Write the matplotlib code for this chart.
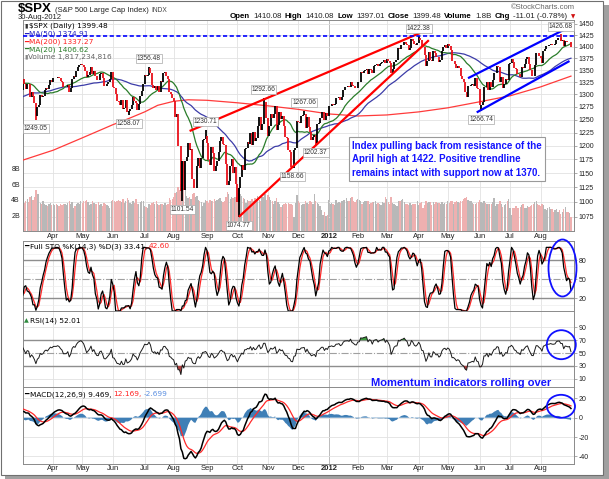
import numpy as np
import pandas as pd
import matplotlib
matplotlib.use('Agg')
import matplotlib.pyplot as plt
from matplotlib.offsetbox import TextArea, HPacker, AnchoredOffsetbox
from matplotlib.patches import Ellipse, Rectangle
from matplotlib.transforms import IdentityTransform

# ------------------------------------------------------------------ data
holidays = ['2010-12-24', '2011-01-17', '2011-02-21', '2011-04-22', '2011-05-30',
            '2011-07-04', '2011-09-05', '2011-11-24', '2011-12-26', '2012-01-02',
            '2012-01-16', '2012-02-20', '2012-04-06', '2012-05-28', '2012-07-04']

close_2010_12 = [1240.46, 1241.59, 1235.23, 1242.87, 1243.91, 1247.08, 1254.60, 1258.84, 1256.77, 1257.54,
                 1258.51, 1259.78, 1257.88, 1257.64]
close_2011_01 = [1271.87, 1270.20, 1276.56, 1273.85, 1271.50, 1269.75, 1274.48, 1285.96, 1283.76, 1293.24,
                 1295.02, 1281.92, 1280.26, 1283.35, 1290.84, 1291.18, 1296.63, 1299.54, 1276.34, 1286.12]
close_2011_02 = [1307.59, 1304.03, 1307.10, 1310.87, 1319.05, 1324.57, 1320.88, 1321.87, 1329.15, 1332.32,
                 1328.01, 1336.32, 1340.43, 1343.01, 1315.44, 1307.40, 1306.10, 1319.88, 1327.22]
close_2011_03 = [1306.33, 1308.44, 1330.97, 1321.15, 1310.13, 1321.82, 1320.02, 1295.11, 1304.28, 1296.39,
                 1281.87, 1256.88, 1273.72, 1279.20, 1298.38, 1293.77, 1297.54, 1309.66, 1313.80, 1310.19,
                 1319.44, 1328.26, 1325.83]
close_2011_04 = [1332.41, 1332.87, 1332.63, 1335.54, 1333.51, 1328.17, 1324.46, 1314.16, 1314.41, 1314.52,
                 1319.68, 1305.14, 1312.62, 1330.36, 1337.38, 1335.25, 1347.24, 1355.66, 1360.48, 1363.61]
close_2011_05 = [1361.22, 1356.62, 1347.32, 1335.10, 1340.20, 1346.29, 1357.16, 1342.08, 1348.65, 1337.77,
                 1329.47, 1328.98, 1340.68, 1343.60, 1333.27, 1317.37, 1316.28, 1320.47, 1325.69, 1331.10,
                 1345.20]
close_2011_06 = [1314.55, 1312.94, 1300.16, 1286.17, 1284.94, 1279.56, 1289.00, 1270.98, 1271.83, 1287.87,
                 1265.42, 1267.64, 1271.50, 1278.36, 1295.52, 1287.14, 1283.50, 1268.45, 1280.10, 1296.67,
                 1307.41, 1320.64]
close_2011_07 = [1339.67, 1337.88, 1339.22, 1353.22, 1343.80, 1319.49, 1313.64, 1317.72, 1308.87, 1316.14,
                 1305.44, 1326.73, 1325.84, 1343.80, 1345.02, 1337.43, 1331.94, 1304.89, 1300.67, 1292.28]
close_2011_08 = [1286.94, 1254.05, 1260.34, 1200.07, 1199.38, 1119.46, 1172.53, 1120.76, 1172.64, 1178.81,
                 1204.49, 1192.76, 1193.89, 1140.65, 1123.53, 1123.82, 1162.35, 1177.60, 1159.27, 1176.80,
                 1210.08, 1212.92, 1218.89]
close_2011_09 = [1204.42, 1173.97, 1165.24, 1198.62, 1185.90, 1154.23, 1162.27, 1172.87, 1188.68, 1209.11,
                 1216.01, 1204.09, 1202.09, 1166.76, 1129.56, 1136.43, 1162.95, 1175.38, 1151.06, 1160.40,
                 1131.42]
close_2011_10 = [1099.23, 1123.95, 1144.03, 1164.97, 1155.46, 1194.89, 1195.54, 1207.25, 1203.66, 1224.58,
                 1200.86, 1225.38, 1209.88, 1215.39, 1238.25, 1254.19, 1229.05, 1242.00, 1284.59, 1285.09,
                 1253.30]
close_2011_11 = [1218.28, 1237.90, 1261.15, 1253.23, 1261.12, 1275.92, 1229.10, 1239.70, 1263.85, 1251.78,
                 1257.81, 1236.91, 1216.13, 1215.65, 1192.98, 1188.04, 1161.79, 1158.67, 1192.55, 1195.19,
                 1246.96]
close_2011_12 = [1244.58, 1244.28, 1257.08, 1258.47, 1261.01, 1234.35, 1255.19, 1236.47, 1225.73, 1211.82,
                 1215.75, 1219.66, 1205.35, 1241.30, 1243.72, 1254.00, 1265.33, 1265.43, 1249.64, 1263.02,
                 1257.60]
close_2012_01 = [1277.06, 1277.30, 1281.06, 1277.81, 1280.70, 1292.08, 1292.48, 1295.50, 1289.09, 1293.67,
                 1308.04, 1314.50, 1315.38, 1316.00, 1314.65, 1326.06, 1318.43, 1316.33, 1313.01, 1312.41]
close_2012_02 = [1324.09, 1325.54, 1344.90, 1344.33, 1347.05, 1349.96, 1351.95, 1342.64, 1351.77, 1350.50,
                 1343.23, 1358.04, 1361.23, 1362.21, 1357.66, 1363.46, 1365.74, 1367.59, 1372.18, 1365.68]
close_2012_03 = [1374.09, 1369.63, 1364.33, 1343.36, 1352.63, 1365.91, 1370.87, 1371.09, 1395.95, 1394.28,
                 1402.60, 1404.17, 1409.75, 1405.52, 1402.89, 1392.78, 1397.11, 1416.51, 1412.52, 1405.54,
                 1403.28, 1408.47]
close_2012_04 = [1419.04, 1413.38, 1398.96, 1398.08, 1382.20, 1358.59, 1368.71, 1387.57, 1370.26, 1369.57,
                 1390.78, 1385.14, 1376.92, 1378.53, 1366.94, 1371.97, 1390.69, 1399.98, 1403.36, 1397.91]
close_2012_05 = [1405.82, 1402.31, 1391.57, 1369.10, 1369.58, 1363.72, 1354.58, 1357.99, 1353.39, 1338.35,
                 1330.66, 1324.80, 1304.86, 1295.22, 1315.99, 1316.63, 1318.86, 1320.68, 1317.82, 1332.42,
                 1313.32, 1310.33]
close_2012_06 = [1278.04, 1278.18, 1285.50, 1315.13, 1314.99, 1325.66, 1308.93, 1324.18, 1314.88, 1329.10,
                 1342.84, 1344.78, 1357.98, 1355.69, 1325.51, 1335.02, 1313.72, 1319.99, 1331.85, 1329.04,
                 1362.16]
close_2012_07 = [1365.51, 1374.02, 1367.58, 1354.68, 1352.46, 1341.47, 1341.45, 1334.76, 1356.78, 1353.64,
                 1363.67, 1372.78, 1376.51, 1362.66, 1350.52, 1338.31, 1337.89, 1360.02, 1385.97, 1385.30,
                 1379.32]
close_2012_08 = [1375.32, 1365.00, 1390.99, 1394.23, 1401.35, 1402.22, 1402.80, 1405.87, 1404.11, 1403.93,
                 1405.53, 1415.51, 1418.16, 1418.13, 1413.17, 1413.49, 1402.08, 1411.13, 1410.44, 1409.30,
                 1410.49, 1399.48]

# volume, in units of 100 million shares (from 2011-03-01)
vol_2011_03 = [40, 42, 38, 36, 39, 41, 37, 43, 45, 40, 44, 52, 48, 47, 36, 35, 38, 34, 33, 32, 35, 36, 33]
vol_2011_04 = [34, 33, 34, 33, 32, 34, 33, 35, 34, 33, 36, 38, 34, 37, 30, 32, 35, 36, 34, 38]
vol_2011_05 = [36, 38, 39, 40, 37, 33, 35, 38, 36, 34, 35, 37, 33, 34, 32, 36, 35, 33, 32, 30, 38]
vol_2011_06 = [40, 38, 37, 39, 40, 39, 37, 41, 36, 39, 42, 40, 36, 34, 38, 36, 41, 35, 34, 37, 38, 39]
vol_2011_07 = [32, 31, 30, 35, 33, 36, 37, 35, 38, 34, 33, 35, 34, 33, 36, 33, 34, 42, 40, 41]
vol_2011_08 = [44, 49, 50, 56, 53, 60, 57, 55, 54, 45, 42, 43, 41, 47, 49, 43, 45, 40, 39, 37, 32, 36, 40]
vol_2011_09 = [38, 36, 40, 39, 38, 41, 39, 40, 41, 42, 38, 37, 38, 44, 50, 48, 41, 43, 42, 44, 43]
vol_2011_10 = [49, 54, 48, 45, 42, 41, 36, 40, 38, 39, 41, 39, 42, 41, 45, 40, 39, 43, 44, 48, 40]
vol_2011_11 = [46, 43, 40, 38, 35, 39, 42, 37, 35, 31, 33, 34, 36, 34, 36, 34, 35, 33, 18, 36, 46]
vol_2011_12 = [38, 36, 33, 34, 35, 38, 36, 34, 39, 37, 35, 48, 38, 36, 35, 32, 27, 21, 25, 19, 20]
vol_2012_01 = [40, 35, 36, 34, 33, 40, 36, 37, 36, 38, 40, 40, 42, 39, 39, 42, 44, 38, 37, 40]
vol_2012_02 = [41, 40, 39, 34, 37, 39, 39, 38, 34, 36, 37, 37, 38, 35, 36, 34, 33, 37, 36, 43]
vol_2012_03 = [41, 37, 35, 43, 36, 35, 33, 32, 38, 39, 40, 41, 37, 34, 35, 33, 36, 33, 35, 34, 35, 38]
vol_2012_04 = [33, 36, 37, 29, 33, 38, 36, 37, 37, 33, 37, 35, 37, 36, 36, 35, 37, 34, 36, 34]
vol_2012_05 = [38, 36, 38, 39, 35, 37, 39, 37, 36, 38, 39, 41, 42, 43, 40, 38, 38, 36, 34, 34, 36, 37]
vol_2012_06 = [40, 37, 36, 38, 36, 34, 35, 34, 35, 37, 42, 32, 34, 35, 38, 34, 31, 33, 34, 38, 41]
vol_2012_07 = [30, 20, 29, 30, 32, 29, 30, 31, 33, 34, 30, 30, 32, 31, 32, 33, 35, 37, 39, 35, 33]
vol_2012_08 = [32, 35, 33, 28, 27, 29, 31, 28, 28, 25, 27, 28, 25, 27, 22, 25, 28, 31, 25, 24, 23, 18]

ma200_dates = ['2011-03-01', '2011-04-01', '2011-05-02', '2011-06-01', '2011-06-16', '2011-07-01',
               '2011-07-15', '2011-08-01', '2011-08-15', '2011-09-01', '2011-10-03', '2011-11-01',
               '2011-12-01', '2012-01-03', '2012-02-01', '2012-03-01', '2012-04-02', '2012-05-01',
               '2012-06-01', '2012-07-02', '2012-08-01', '2012-08-30']
ma200_values = [1172, 1192, 1215, 1240, 1252, 1265, 1278, 1286, 1289, 1288, 1283, 1277,
                1270, 1261, 1257, 1259, 1265, 1273, 1285, 1297, 1315, 1337.27]

extreme_dates = ['2011-03-16', '2011-06-16', '2011-07-07', '2011-08-09', '2011-08-31', '2011-10-04',
                 '2011-10-27', '2011-11-25', '2011-12-07', '2011-12-19', '2012-04-02', '2012-06-04',
                 '2012-08-21']
extreme_values = [1249.05, 1258.07, 1356.48, 1101.54, 1230.71, 1074.77, 1292.66, 1158.66, 1267.06,
                  1202.37, 1422.38, 1266.74, 1426.68]

red_trend1_dates, red_trend1_values = ['2011-08-16', '2012-04-03'], [1228, 1430]
red_trend2_dates, red_trend2_values = ['2011-10-04', '2012-04-12'], [1074.77, 1414]
blue_trend1_dates, blue_trend1_values = ['2012-05-21', '2012-08-30'], [1333, 1445]
blue_trend2_dates, blue_trend2_values = ['2012-05-30', '2012-08-29'], [1264, 1369]
resistance = 1422.38

price_ticks = [1075, 1100, 1125, 1150, 1175, 1200, 1225, 1250, 1275, 1300, 1325, 1350, 1375, 1400, 1425, 1450]
vol_ticks = [2e9, 4e9, 6e9, 8e9]
vol_tick_labels = ['2B', '4B', '6B', '8B']

# ------------------------------------------------------------------ prep
close = np.array(close_2010_12 + close_2011_01 + close_2011_02 + close_2011_03 + close_2011_04 +
                 close_2011_05 + close_2011_06 + close_2011_07 + close_2011_08 + close_2011_09 +
                 close_2011_10 + close_2011_11 + close_2011_12 + close_2012_01 + close_2012_02 +
                 close_2012_03 + close_2012_04 + close_2012_05 + close_2012_06 + close_2012_07 +
                 close_2012_08)
dates = pd.bdate_range('2010-12-13', '2012-08-30', freq='C', holidays=holidays)
assert len(dates) == len(close), (len(dates), len(close))
n = len(close)
x = np.arange(n)

def idx(d):
    return dates.get_loc(pd.Timestamp(d))

volume = np.array(vol_2011_03 + vol_2011_04 + vol_2011_05 + vol_2011_06 + vol_2011_07 + vol_2011_08 +
                  vol_2011_09 + vol_2011_10 + vol_2011_11 + vol_2011_12 + vol_2012_01 + vol_2012_02 +
                  vol_2012_03 + vol_2012_04 + vol_2012_05 + vol_2012_06 + vol_2012_07 + vol_2012_08) * 1e8
vstart = idx('2011-03-01')
assert vstart + len(volume) == n, (vstart, len(volume), n)
vx = np.arange(vstart, n)

c = pd.Series(close)
ma50 = c.rolling(50).mean()
ma20 = c.rolling(20).mean()
ll, hh = c.rolling(14).min(), c.rolling(14).max()
fastk = 100 * (c - ll) / (hh - ll)
fullk = fastk.rolling(3).mean()
fulld = fullk.rolling(3).mean()
dlt = c.diff()
ag = dlt.clip(lower=0).ewm(alpha=1 / 14, adjust=False).mean()
al = (-dlt.clip(upper=0)).ewm(alpha=1 / 14, adjust=False).mean()
rsi = 100 - 100 / (1 + ag / al)
macd = c.ewm(span=12, adjust=False).mean() - c.ewm(span=26, adjust=False).mean()
signal = macd.ewm(span=9, adjust=False).mean()
hist = macd - signal

prev = np.r_[close[0], close[:-1]]
up = close >= prev

# ------------------------------------------------------------------ figure
W, H = 609, 479
fig = plt.figure(figsize=(W / 100, H / 100), dpi=100)
plt.rcParams['font.family'] = ['DejaVu Sans']
NUM = 'Liberation Sans'


def rect(l, t, r, b):
    return [l / W, 1 - b / H, (r - l) / W, (b - t) / H]


L, R = 22.7, 574.0
XMIN, XMAX = 54.9, 435.1
GRID = '#e2e2e2'
SPINE = '#8a8a8a'

# frame + shadow
fig.add_artist(Rectangle((5, 0), 604, 474, transform=IdentityTransform(), fc='#a0a0a0', ec='none', zorder=-20))
fig.add_artist(Rectangle((1, 4), 602, 474, transform=IdentityTransform(), fc='white', ec='#707070', lw=0.8,
                         zorder=-19))

month_idx = [i for i in range(1, n) if dates[i].month != dates[i - 1].month and XMIN < i < XMAX]
month_lab = ['2012' if dates[i].month == 1 else dates[i].strftime('%b') for i in month_idx]


def base_axes(r, ylim, yticks, ylabels, log=False, xlabels=False, facecolor='white', z=1):
    a = fig.add_axes(r, zorder=z, facecolor=facecolor)
    if log:
        a.set_yscale('log')
    a.set_xlim(XMIN, XMAX)
    a.set_ylim(*ylim)
    a.yaxis.tick_right()
    a.set_yticks(yticks)
    a.set_yticklabels(ylabels)
    a.yaxis.set_minor_locator(matplotlib.ticker.NullLocator())
    a.tick_params(axis='y', labelsize=5, length=2, width=0.5, color=SPINE, pad=1.5, labelcolor='#222222')
    for lab in a.get_yticklabels():
        lab.set_family(NUM)
    a.set_xticks(month_idx)
    if xlabels:
        a.set_xticklabels(month_lab)
        a.tick_params(axis='x', labelsize=5.5, length=0, pad=1.3, labelcolor='#222222')
        for lab in a.get_xticklabels():
            lab.set_family(NUM)
            if lab.get_text() == '2012':
                lab.set_fontweight('bold')
    else:
        a.set_xticklabels([])
        a.tick_params(axis='x', length=0)
    for i in month_idx:
        a.axvline(i, color='#b0b0b0' if dates[i].month == 1 else GRID, lw=0.6, zorder=0)
    for s in a.spines.values():
        s.set_color(SPINE)
        s.set_linewidth(0.7)
    return a


# ---- main price panel
MAIN = rect(L, 20.5, R, 231)
ax = base_axes(MAIN, (1051.4, 1457.9), price_ticks, [str(t) for t in price_ticks], log=True, xlabels=True)
for t in price_ticks:
    ax.axhline(t, color=GRID, lw=0.6, zorder=0)

axv = fig.add_axes(MAIN, zorder=2, facecolor='none')
axv.set_xlim(XMIN, XMAX)
axv.set_ylim(0, 27e9)
axv.bar(vx, volume, width=0.9, color=np.where(up[vstart:], '#b8b8b8', '#eeb0b0'), lw=0)
axv.set_frame_on(False)
axv.set_xticks([])
axv.set_yticks(vol_ticks)
axv.set_yticklabels(vol_tick_labels)
axv.tick_params(axis='y', labelsize=5, length=0, pad=2, labelcolor='#222222')
for lab in axv.get_yticklabels():
    lab.set_family(NUM)

axp = fig.add_axes(MAIN, zorder=3, facecolor='none')
axp.set_yscale('log')
axp.set_xlim(XMIN, XMAX)
axp.set_ylim(1051.4, 1457.9)
axp.axis('off')

axp.plot([idx(d) for d in ma200_dates], ma200_values, color='#ff3b3b', lw=0.9, zorder=2)
axp.plot(x, ma50, color='#3c3ca8', lw=0.9, zorder=2)
axp.plot(x, ma20, color='#2a7d2a', lw=0.9, zorder=2)
axp.vlines(x, np.minimum(prev, close), np.maximum(prev, close),
           colors=np.where(up, 'black', '#e8101a'), lw=1.3, zorder=3)
for d, v in zip(extreme_dates, extreme_values):
    i = idx(d)
    is_high = v >= close[i]
    axp.vlines(i, min(v, close[i]), max(v, close[i]), colors='black' if up[i] else '#e8101a', lw=1.3, zorder=3)
    axp.annotate(f'{v:.2f}', xy=(i, v), xytext=(0, 6 if is_high else -6), textcoords='offset points',
                 ha='center', va='center', fontsize=4.8, family=NUM, color='#333333', zorder=8,
                 bbox=dict(boxstyle='square,pad=0.15', fc='white', ec='#a8a8a8', lw=0.5))

for ds, vs, col in [(red_trend1_dates, red_trend1_values, '#ff0000'),
                    (red_trend2_dates, red_trend2_values, '#ff0000'),
                    (blue_trend1_dates, blue_trend1_values, '#0000ff'),
                    (blue_trend2_dates, blue_trend2_values, '#0000ff')]:
    axp.plot([idx(d) for d in ds], vs, color=col, lw=1.6, zorder=5, solid_capstyle='butt')
axp.axhline(resistance, color='#0000ff', lw=1.2, ls=(0, (2.5, 1.5)), zorder=5)

# ---- stochastics
ax_s = base_axes(rect(L, 241, R, 311), (0, 110), [20, 50, 80], ['20', '50', '80'])
for v in range(10, 110, 10):
    if v not in (20, 50, 80):
        ax_s.axhline(v, color='#ededed', lw=0.5, zorder=0)
ax_s.axhline(80, color='#8e8e8e', lw=1.0, zorder=1)
ax_s.axhline(20, color='#8e8e8e', lw=1.0, zorder=1)
ax_s.axhline(50, color='#a0a0a0', lw=0.8, ls='-.', zorder=1)
ax_s.plot(x, fulld, color='#ff2a2a', lw=0.9, zorder=2)
ax_s.plot(x, fullk, color='black', lw=0.9, zorder=3)

# ---- RSI
ax_r = base_axes(rect(L, 311, R, 387), (-2.9, 115.4), [10, 30, 50, 70, 90], ['10', '30', '50', '70', '90'])
for v in (10, 90):
    ax_r.axhline(v, color=GRID, lw=0.6, zorder=0)
ax_r.axhline(70, color='#8e8e8e', lw=1.0, zorder=1)
ax_r.axhline(30, color='#8e8e8e', lw=1.0, zorder=1)
ax_r.axhline(50, color='#a0a0a0', lw=0.8, ls='-.', zorder=1)
ax_r.fill_between(x, rsi, 70, where=rsi > 70, interpolate=True, color='#3c9a3c', lw=0, zorder=2)
ax_r.fill_between(x, rsi, 30, where=rsi < 30, interpolate=True, color='#b04040', lw=0, zorder=2)
ax_r.plot(x, rsi, color='#1a1a1a', lw=0.7, zorder=3)

# ---- MACD
ax_m = base_axes(rect(L, 387, R, 463.5), (-47.4, 31.7), [-40, -20, 0, 20], ['-40', '-20', '0', '20'],
                 xlabels=True)
for v in (-40, -20, 0, 20):
    ax_m.axhline(v, color=GRID, lw=0.6, zorder=0)
ax_m.fill_between(x, hist, 0, color='#3f7fb6', lw=0, zorder=2)
ax_m.plot(x, signal, color='#ff2a2a', lw=0.9, zorder=3)
ax_m.plot(x, macd, color='black', lw=1.1, zorder=4)


# ------------------------------------------------------------------ texts
def row(parts, xp, yp, size=5.3, family='DejaVu Sans', loc='center left', sep=1.2):
    kids = [TextArea(t, textprops=dict(color=col, fontsize=sz if sz else size, family=fam if fam else family,
                                       fontweight=w))
            for (t, col, w, sz, fam) in parts]
    box = HPacker(children=kids, align='baseline', pad=0, sep=sep)
    ab = AnchoredOffsetbox(loc=loc, child=box, pad=0, borderpad=0, frameon=False,
                           bbox_to_anchor=(xp / W, 1 - yp / H), bbox_transform=fig.transFigure)
    ab.set_zorder(30)
    fig.add_artist(ab)


row([('$SPX', 'black', 'bold', 9.5, NUM), ('(S&P 500 Large Cap Index)', '#222222', 'normal', 5.5, NUM),
     ('INDX', '#444444', 'normal', 4.8, NUM)], 18, 8.5, sep=2)
fig.text(18 / W, 1 - 17.5 / H, '30-Aug-2012', fontsize=5.5, family=NUM, va='center', ha='left', color='#222222')
fig.text(575 / W, 1 - 7.5 / H, '\u00a9StockCharts.com', fontsize=5.5, family=NUM, va='center', ha='right',
         color='#666666')
hdr = []
for lab, val in [('Open', '1410.08'), ('High', '1410.08'), ('Low', '1397.01'), ('Close', '1399.48'),
                 ('Volume', '1.8B'), ('Chg', '-11.01 (-0.78%)')]:
    hdr += [(lab, 'black', 'bold', 5.7, NUM), (val, '#222222', 'normal', 5.7, NUM)]
hdr += [('\u25bc', '#d01010', 'normal', 4, 'DejaVu Sans')]
row(hdr, 575, 17, loc='center right', sep=2.3)

# main legend
row([('\u25ae', '#333333', 'normal', 4.5, None), ('$SPX (Daily) 1399.48', 'black', 'normal', None, None)], 24, 25.7)
row([('\u2501', '#2020c0', 'normal', None, None), ('MA(50) 1374.91', '#2020c0', 'normal', None, None)], 24, 34,
    sep=0.3)
row([('\u2501', '#ff2020', 'normal', None, None), ('MA(200) 1337.27', '#ff2020', 'normal', None, None)], 24, 41.7,
    sep=0.3)
row([('\u2501', '#2a7d2a', 'normal', None, None), ('MA(20) 1406.62', '#2a7d2a', 'normal', None, None)], 24, 49.3,
    sep=0.3)
row([('\u25ae', '#888888', 'normal', 4.5, None), ('Volume 1,817,234,816', '#666666', 'normal', None, None)], 24,
    56.7, sep=0.6)

row([('\u2501', 'black', 'normal', None, None), ('Full STO %K(14,3) %D(3) 33.41,', 'black', 'normal', None, None),
     ('42.60', '#ff2020', 'normal', None, None)], 24, 246.5)
row([('\u25b2', '#2e8b3e', 'normal', 4.5, None), ('RSI(14) 52.01', 'black', 'normal', None, None)], 24, 320.5,
    sep=0.6)
row([('\u2501', 'black', 'normal', None, None), ('MACD(12,26,9) 9.469,', 'black', 'normal', None, None),
     ('12.169,', '#ff2020', 'normal', None, None), ('-2.699', '#5a8ee0', 'normal', None, None)], 24, 394.5)

# annotations
fig.text(352 / W, 1 - 159.3 / H,
         'Index pulling back from resistance of the\nApril high at 1422. Positive trendline\n'
         'remains intact with support now at 1370.',
         ha='left', va='center', fontsize=7, fontweight='bold', color='#1414ff', family=NUM, linespacing=1.45,
         zorder=40, bbox=dict(boxstyle='square,pad=0.35', fc='white', ec='#9a9a9a', lw=0.8))
fig.text(461 / W, 1 - 383.5 / H, 'Momentum indicators rolling over', ha='center', va='center', fontsize=8,
         fontweight='bold', color='#1414ff', family=NUM, zorder=40)

for cx, cy, w, h in [(562.5, 268, 28, 57), (561.3, 344.7, 29, 29), (561, 406.3, 28, 23)]:
    fig.add_artist(Ellipse((cx, H - cy), w, h, transform=IdentityTransform(), fill=False, ec='#1010ff',
                           lw=1.3, zorder=45))

fig.savefig('out.png', dpi=100)
